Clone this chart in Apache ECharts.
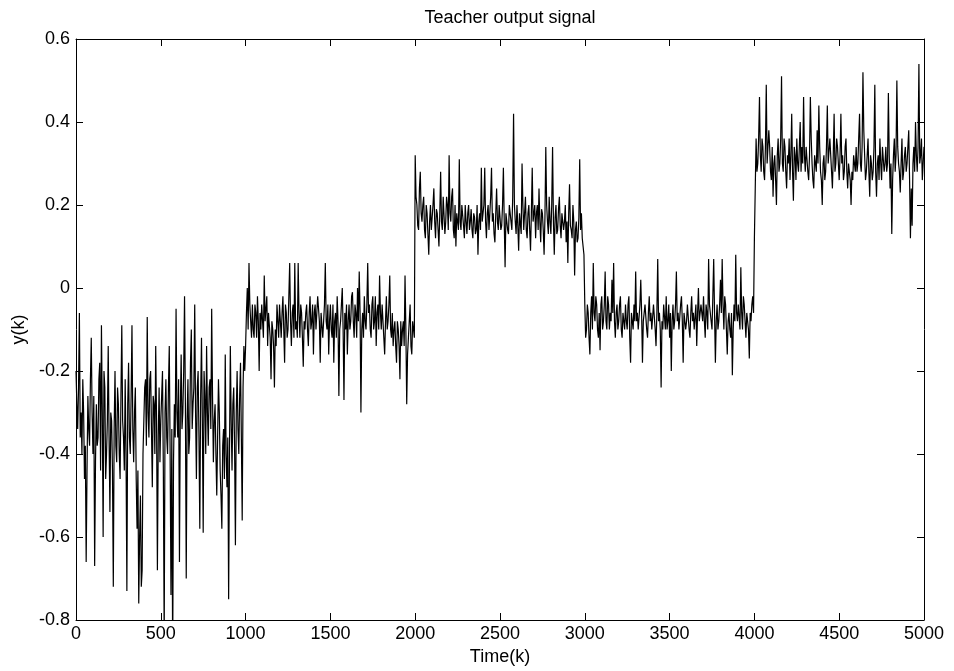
<!DOCTYPE html>
<html>
<head>
<meta charset="utf-8">
<script src="https://cdn.jsdelivr.net/npm/echarts@6/dist/echarts.min.js"></script>
<style>
html,body{margin:0;padding:0;background:#fff;}
#chart{width:954px;height:671px;}
</style>
</head>
<body>
<div id="chart"></div>
<script>
// Sample spacing (time units) of the values
const STEP = 5;
// Values in hundredths, every 5 time steps
const seg1 = [ // k = 0 .. 995
  -20,-28,-34,-24,-6,-36,-30,-40,-22,-30,-46,-38,-66,-44,-26,-34,-38,-22,-12,-30,
  -40,-26,-67,-42,-28,-38,-36,-22,-18,-44,-9,-30,-60,-20,-24,-46,-40,-32,-14,-36,
  -54,-30,-32,-44,-72,-34,-20,-38,-42,-24,-28,-40,-46,-26,-9,-32,-36,-44,-22,-40,
  -73,-28,-18,-36,-40,-26,-9,-34,-42,-30,-24,-46,-58,-44,-76,-60,-50,-72,-68,-40,
  -32,-24,-22,-38,-7,-30,-36,-22,-20,-34,-48,-26,-28,-40,-14,-32,-68,-36,-24,-42,
  -32,-26,-20,-44,-85,-30,-22,-36,-40,-24,-14,-40,-74,-34,-90,-42,-28,-36,-5,-30,
  -36,-22,-66,-30,-16,-34,-30,-20,-2,-28,-70,-32,-22,-40,-36,-18,-10,-34,-28,-24,
  -4,-30,-46,-24,-20,-36,-58,-26,-12,-32,-59,-20,-26,-40,-14,-30,-38,-24,-22,-34,
  -5,-26,-42,-32,-28,-40,-50,-36,-22,-30,-44,-50,-58,-38,-34,-46,-16,-40,-48,-36,
  -75,-40,-14,-32,-44,-28,-24,-38,-62,-30,-20,-34,-40,-26,-18,-36,-56,-24,-14,-20
];
const seg2 = [ // k = 1000 .. 1995
  -14,-6,0,-10,6,-4,-8,-12,-4,-10,-12,-4,-6,-12,-2,-8,-20,-6,-10,-4,
  -4,-12,3,-8,-8,-2,-14,-6,-6,-12,-22,-8,-10,-14,-24,-10,-14,-4,-8,-12,
  -4,-8,-12,-6,-2,-10,-18,-4,-6,-12,-10,-2,6,-8,-14,-6,-4,-12,6,-10,
  -8,-12,6,-6,-12,-4,-6,-12,-19,-8,-10,-6,-4,-10,-14,-6,-2,-10,-8,-4,
  -16,-6,-4,-10,-10,-2,-2,-8,-18,-6,-6,-12,-12,-4,6,-8,-10,-4,-16,-8,
  -4,-10,-12,-4,-18,-8,-6,-12,-2,-8,-26,-10,-8,-4,0,-10,-27,-6,-10,-4,
  -16,-8,-4,-10,-8,-2,-1,-8,-12,-4,-6,-12,0,-8,4,-6,-30,-10,-6,-12,
  -2,-8,-10,-4,6,-6,-4,-10,-12,-4,-2,-10,-8,-2,-14,-6,-4,-10,3,-6,
  -10,-4,-4,-12,-16,-8,-2,-10,-8,-4,3,-10,-12,-6,-14,-10,-8,-14,-18,-8,
  -10,-14,-22,-8,-14,-10,-8,-14,3,-10,-28,-16,-12,-8,-4,-14,-16,-8,-10,-12
];
const seg3 = [ // k = 2000 .. 2995
  32,22,20,15,14,24,28,18,16,20,22,14,12,20,18,13,8,16,20,14,
  14,20,24,16,12,19,18,14,10,18,28,16,14,22,22,13,16,22,20,14,
  32,18,16,22,24,14,12,20,10,18,18,14,31,16,14,20,20,15,12,20,
  16,13,18,20,14,16,19,14,12,18,17,13,14,20,8,16,18,14,29,16,
  16,20,29,16,12,18,20,14,14,22,29,16,18,13,11,18,24,16,14,20,
  20,14,15,20,29,16,5,18,18,14,13,20,20,16,14,22,42,20,16,13,
  20,15,9,18,18,13,30,20,14,18,22,14,12,18,20,14,9,18,29,16,
  16,20,12,18,20,14,24,16,11,19,18,14,8,17,34,20,16,13,22,16,
  13,20,34,16,8,17,20,13,14,19,22,15,12,18,18,14,16,20,11,16,
  6,18,25,15,14,12,20,16,3,14,16,11,12,17,31,14,18,12,10,8
];
const seg4 = [ // k = 3000 .. 3995
  -4,-12,-10,-4,-6,-12,-16,-6,-2,-10,6,-6,-8,-2,-4,-10,-12,-6,-15,-4,
  -2,-10,-8,-4,4,-8,-10,-2,-4,-10,-6,-8,2,-6,6,-8,-12,-6,-4,-10,
  -8,-4,-2,-10,-12,-6,-6,-10,-4,-8,-10,-4,-2,-12,-18,-6,-8,-10,-4,-8,
  4,-8,-6,-10,-10,-4,2,-6,-18,-8,-8,-4,-4,-10,-12,-6,-2,-8,-6,-10,
  -10,-4,-4,-10,-14,-6,7,-8,-6,-10,-24,-8,-10,-4,-4,-10,-2,-10,-8,-4,
  -12,-6,-20,-8,-4,-10,-8,-4,4,-8,-6,-10,-10,-4,-2,-8,-18,-6,-6,-10,
  -8,-4,-4,-10,-12,-6,-2,-8,-6,-10,-10,-4,-14,-6,0,-8,-8,-4,-4,-8,
  -2,-8,-12,-4,-6,-10,7,-4,-4,-8,-10,-2,7,-6,-18,-8,-4,-10,-8,-4,
  2,-6,7,-4,-10,-2,-4,-10,-16,-8,-6,-10,-12,-6,-21,-10,-4,-8,8,-6,
  -8,-4,-4,-10,5,-6,-10,-2,-4,-8,-12,-6,-6,-10,-17,-6,-8,-4,-2,-6
];
const seg5 = [ // k = 4000 .. 5000
  12,24,36,28,30,36,46,32,28,36,34,28,26,34,49,30,30,38,34,28,
  26,34,22,30,32,26,20,32,36,28,30,36,51,30,28,36,34,28,24,32,
  30,36,26,32,42,28,21,34,32,26,36,30,28,34,40,28,34,30,46,32,
  28,34,34,28,26,32,46,36,30,26,24,32,32,28,38,30,44,34,28,26,
  20,30,32,26,28,34,44,30,30,36,36,28,24,32,42,28,30,36,34,30,
  26,32,42,30,32,26,28,34,36,28,24,30,30,26,20,28,26,32,32,28,
  34,28,30,36,42,30,28,34,52,38,32,26,28,32,36,28,22,32,30,26,
  28,34,49,28,22,30,32,26,36,30,26,34,34,28,30,34,28,30,47,32,
  24,30,13,26,32,36,28,32,50,34,30,28,23,30,36,26,28,32,34,28,
  30,34,38,26,12,24,15,30,34,28,40,32,28,34,54,30,32,36,26,30,
  34
];
const xTicks = [0,500,1000,1500,2000,2500,3000,3500,4000,4500,5000];
const yTicks = [-0.8,-0.6,-0.4,-0.2,0,0.2,0.4,0.6];

const values = [].concat(seg1, seg2, seg3, seg4, seg5).map(v => v / 100);
const seriesData = values.map((v, i) => [i * STEP, v]);

const FONT = 'Liberation Sans, Arial, sans-serif';
const xInterval = xTicks[1] - xTicks[0];
const yInterval = Math.round((yTicks[1] - yTicks[0]) * 10) / 10;
const fmtY = v => String(Math.round(v * 10) / 10);
const fmtX = v => String(Math.round(v));

const chart = echarts.init(document.getElementById('chart'), null, {renderer: 'canvas'});
const axisLine = {show: true, onZero: false, lineStyle: {color: '#000', width: 1}};
const axisTick = {show: true, inside: true, length: 7, lineStyle: {color: '#000', width: 1}};
chart.setOption({
  animation: false,
  backgroundColor: '#fff',
  title: {
    text: 'Teacher output signal',
    left: 505, top: 4, textAlign: 'center',
    textStyle: {fontFamily: FONT, fontSize: 18, fontWeight: 'normal', color: '#000'}
  },
  grid: {left: 76, top: 39, width: 848, height: 581, containLabel: false},
  xAxis: [{
    type: 'value', position: 'bottom',
    min: xTicks[0], max: xTicks[xTicks.length - 1], interval: xInterval,
    name: 'Time(k)', nameLocation: 'middle', nameGap: 27,
    nameTextStyle: {fontFamily: FONT, fontSize: 18, color: '#000'},
    axisLine, axisTick,
    axisLabel: {fontFamily: FONT, fontSize: 18, color: '#000', margin: 5, formatter: fmtX},
    splitLine: {show: false}
  }, {
    type: 'value', position: 'top',
    min: xTicks[0], max: xTicks[xTicks.length - 1], interval: xInterval,
    axisLine, axisTick, axisLabel: {show: false}, splitLine: {show: false}
  }],
  yAxis: [{
    type: 'value', position: 'left',
    min: yTicks[0], max: yTicks[yTicks.length - 1], interval: yInterval,
    name: 'y(k)', nameLocation: 'middle', nameGap: 48, nameRotate: 90,
    nameTextStyle: {fontFamily: FONT, fontSize: 18, color: '#000'},
    axisLine, axisTick,
    axisLabel: {fontFamily: FONT, fontSize: 18, color: '#000', margin: 6, formatter: fmtY},
    splitLine: {show: false}
  }, {
    type: 'value', position: 'right',
    min: yTicks[0], max: yTicks[yTicks.length - 1], interval: yInterval,
    axisLine, axisTick, axisLabel: {show: false}, splitLine: {show: false}
  }],
  series: [{
    type: 'line',
    data: seriesData,
    xAxisIndex: 0, yAxisIndex: 0,
    showSymbol: false, symbol: 'none',
    clip: true,
    lineStyle: {color: '#000', width: 1.2},
    silent: true
  }]
});
</script>
</body>
</html>
